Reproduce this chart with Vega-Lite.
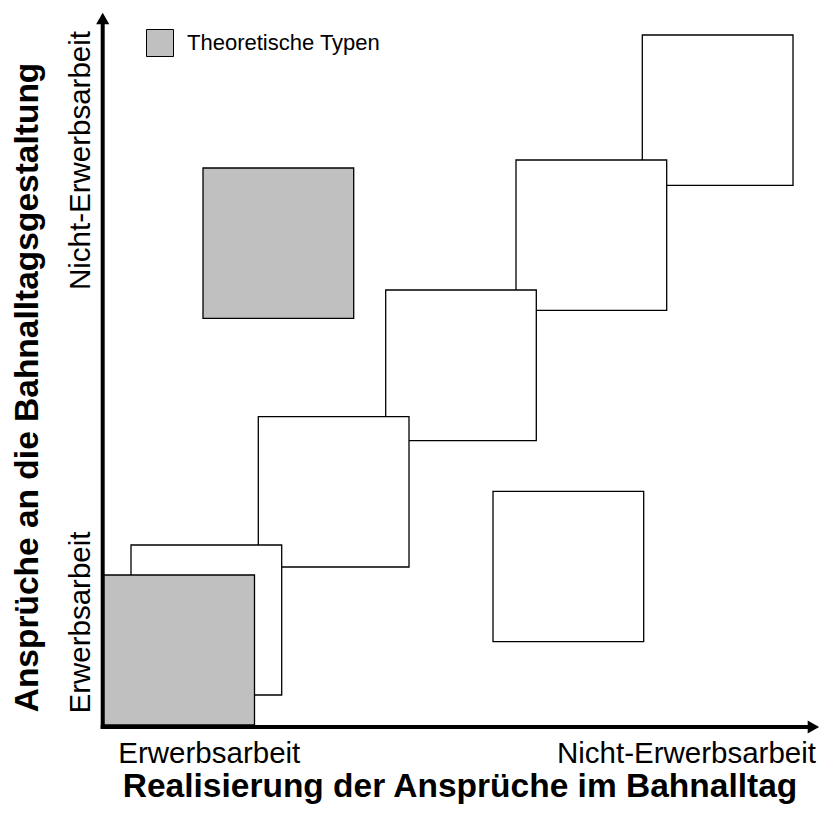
{
  "$schema": "https://vega.github.io/schema/vega-lite/v6.json",
  "width": 712,
  "height": 712,
  "autosize": {"type": "none"},
  "padding": {"left": 103, "top": 13, "right": 5, "bottom": 91},
  "background": "white",
  "config": {"view": {"stroke": null}, "font": "Liberation Sans"},
  "datasets": {
    "quadrate": [
      {"id": 6, "typ": "andere", "x1": 539.3, "x2": 690, "y1": 539.7, "y2": 690},
      {"id": 5, "typ": "andere", "x1": 413, "x2": 563.7, "y1": 414.7, "y2": 565},
      {"id": 4, "typ": "andere", "x1": 282.7, "x2": 433.3, "y1": 284.3, "y2": 435},
      {"id": 3, "typ": "andere", "x1": 155.3, "x2": 306, "y1": 158, "y2": 308.3},
      {"id": 2, "typ": "andere", "x1": 28, "x2": 178.7, "y1": 30, "y2": 180},
      {"id": 7, "typ": "Theoretische Typen", "x1": 100, "x2": 250.7, "y1": 406.7, "y2": 557},
      {"id": 8, "typ": "andere", "x1": 390, "x2": 540.7, "y1": 83.3, "y2": 233.7},
      {"id": 1, "typ": "Theoretische Typen", "x1": 0.5, "x2": 151.5, "y1": 0, "y2": 150}
    ],
    "achsen": [
      {"achse": "y", "x1": -0.3, "x2": -0.3, "y1": -4, "y2": 702},
      {"achse": "x", "x1": -2.3, "x2": 705, "y1": -2, "y2": -2}
    ],
    "pfeile": [
      {"achse": "y", "x1": -0.3, "y1": 706.4},
      {"achse": "x", "x1": 710.4, "y1": -2}
    ]
  },
  "layer": [
    {
      "data": {"name": "quadrate"},
      "mark": {"type": "rect", "stroke": "black", "strokeWidth": 1.3, "opacity": 1},
      "encoding": {
        "x": {
          "field": "x1", "type": "quantitative",
          "scale": {"domain": [0, 712], "nice": false, "zero": false},
          "axis": {
            "title": "Realisierung der Ansprüche im Bahnalltag",
            "titleFont": "Liberation Sans", "titleFontSize": 33.5, "titleFontWeight": "bold", "titleColor": "black",
            "titleX": 356.5, "titleY": 71, "titleBaseline": "alphabetic", "titleAlign": "center", "titleLimit": 0,
            "domain": false, "ticks": false, "tickSize": 0, "grid": false,
            "values": [105.8, 583],
            "labelExpr": "datum.value < 300 ? 'Erwerbsarbeit' : 'Nicht-Erwerbsarbeit'",
            "labelFont": "Liberation Sans", "labelFontSize": 29.5, "labelColor": "black", "labelLimit": 0,
            "labelPadding": 37, "labelBaseline": "alphabetic", "labelAlign": "center",
            "labelFlush": false, "labelOverlap": false, "labelBound": false
          }
        },
        "x2": {"field": "x2"},
        "y": {
          "field": "y1", "type": "quantitative",
          "scale": {"domain": [0, 712], "nice": false, "zero": false},
          "axis": {
            "title": "Ansprüche an die Bahnalltagsgestaltung",
            "titleFont": "Liberation Sans", "titleFontSize": 33.5, "titleFontWeight": "bold", "titleColor": "black",
            "titleAngle": -90, "titleX": -66, "titleY": 374, "titleBaseline": "alphabetic", "titleAlign": "center", "titleLimit": 0,
            "domain": false, "ticks": false, "tickSize": 0, "grid": false,
            "values": [103, 565],
            "labelExpr": "datum.value < 300 ? 'Erwerbsarbeit' : 'Nicht-Erwerbsarbeit'",
            "labelFont": "Liberation Sans", "labelFontSize": 29.5, "labelColor": "black", "labelLimit": 0,
            "labelAngle": -90, "labelAlign": "center", "labelBaseline": "alphabetic", "labelPadding": 14,
            "labelFlush": false, "labelOverlap": false, "labelBound": false
          }
        },
        "y2": {"field": "y2"},
        "fill": {
          "field": "typ", "type": "nominal",
          "scale": {"domain": ["Theoretische Typen", "andere"], "range": ["#c0c0c0", "#ffffff"]},
          "legend": {
            "values": ["Theoretische Typen"], "title": null,
            "orient": "none", "legendX": 43, "legendY": 16, "padding": 0,
            "symbolType": "square", "symbolSize": 729, "symbolStrokeColor": "black", "symbolStrokeWidth": 1,
            "symbolOpacity": 1, "labelLimit": 0,
            "labelFont": "Liberation Sans", "labelFontSize": 22, "labelColor": "black", "labelOffset": 13
          }
        }
      }
    },
    {
      "data": {"name": "achsen"},
      "mark": {"type": "rule", "color": "black", "strokeWidth": 4},
      "encoding": {
        "x": {"field": "x1", "type": "quantitative"},
        "x2": {"field": "x2"},
        "y": {"field": "y1", "type": "quantitative"},
        "y2": {"field": "y2"}
      }
    },
    {
      "data": {"name": "pfeile"},
      "mark": {"type": "point", "filled": true, "color": "black", "opacity": 1, "size": 175, "strokeWidth": 0},
      "encoding": {
        "x": {"field": "x1", "type": "quantitative"},
        "y": {"field": "y1", "type": "quantitative"},
        "shape": {
          "field": "achse", "type": "nominal",
          "scale": {"domain": ["x", "y"], "range": ["triangle-right", "triangle-up"]},
          "legend": null
        }
      }
    }
  ]
}
